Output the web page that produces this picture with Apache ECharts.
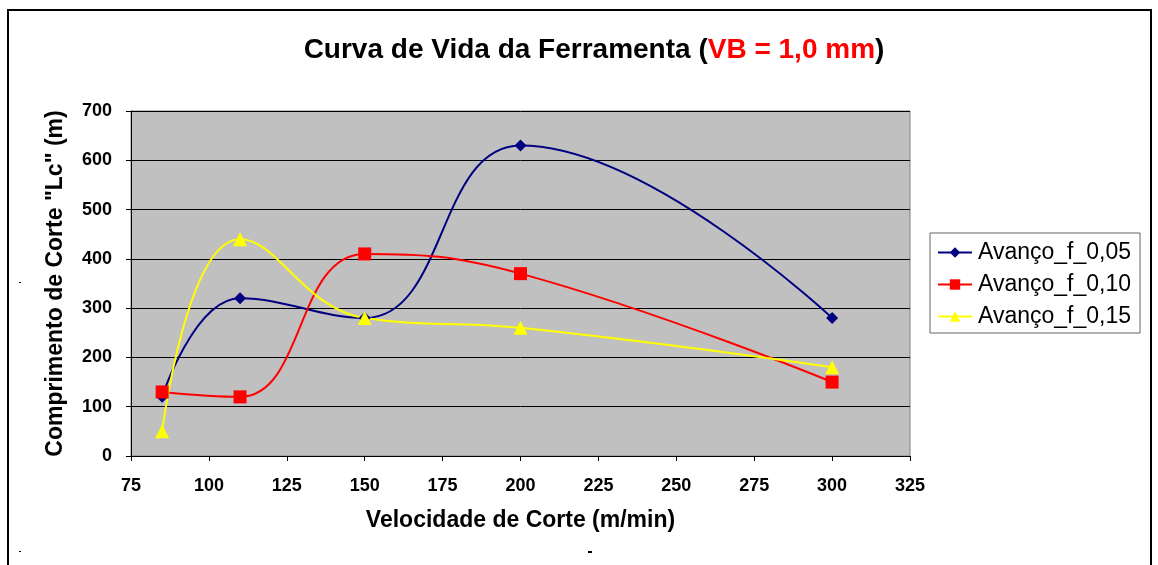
<!DOCTYPE html>
<html>
<head>
<meta charset="utf-8">
<script src="https://cdn.jsdelivr.net/npm/echarts@6/dist/echarts.min.js"></script>
<style>
  html, body { margin: 0; padding: 0; background: #fff; }
  #chart { width: 1158px; height: 565px; }
</style>
</head>
<body>
<div id="chart"></div>
<script>
// velocidade de corte (m/min)
var velocidade = [85, 110, 150, 200, 300];
var avanco005 = [120, 320, 280, 630, 280];
var avanco010 = [130, 120, 410, 370, 150];
var avanco015 = [50, 440, 280, 260, 180];
var nomes = ['Avanço_f_0,05', 'Avanço_f_0,10', 'Avanço_f_0,15'];

function pares(ys) {
  return velocidade.map(function (v, i) { return [v, ys[i]]; });
}

var fonte = 'Liberation Sans, Arial';
var myChart = echarts.init(document.getElementById('chart'));

var option = {
  animation: false,
  title: {
    text: '{n|Curva de Vida da Ferramenta (}{r|VB = 1,0 mm}{n|)}',
    left: 589,
    top: 31,
    textAlign: 'center',
    textStyle: {
      rich: {
        n: { fontFamily: fonte, fontWeight: 'bold', fontSize: 28, color: '#000' },
        r: { fontFamily: fonte, fontWeight: 'bold', fontSize: 28, color: '#ff0000' }
      }
    }
  },
  graphic: [
    {
      type: 'rect',
      shape: { x: 8, y: 10, width: 1143, height: 580 },
      style: { fill: 'none', stroke: '#000', lineWidth: 2 },
      silent: true
    },
    // pequenos tracos soltos da imagem original
    { type: 'rect', shape: { x: 19, y: 282, width: 2, height: 1 }, style: { fill: '#000' }, silent: true },
    { type: 'rect', shape: { x: 19, y: 551, width: 2, height: 1 }, style: { fill: '#000' }, silent: true },
    { type: 'rect', shape: { x: 588, y: 551, width: 4, height: 2 }, style: { fill: '#000' }, silent: true }
  ],
  legend: {
    orient: 'vertical',
    left: 930,
    top: 233,
    data: nomes,
    backgroundColor: '#fff',
    borderColor: '#666',
    borderWidth: 1,
    borderRadius: 0,
    padding: [8, 9, 5, 7],
    itemGap: 9,
    itemWidth: 34,
    itemHeight: 13,
    textStyle: { fontFamily: fonte, fontSize: 23, color: '#000', padding: [0, 0, 0, 1] }
  },
  grid: {
    left: 131,
    right: 248,
    top: 111,
    bottom: 109,
    show: true,
    backgroundColor: '#c0c0c0',
    borderColor: '#808080',
    borderWidth: 1
  },
  xAxis: {
    type: 'value',
    min: 75,
    max: 325,
    interval: 25,
    name: 'Velocidade de Corte (m/min)',
    nameLocation: 'middle',
    nameGap: 53,
    nameTextStyle: { fontFamily: fonte, fontWeight: 'bold', fontSize: 23, color: '#000' },
    axisLine: { show: true, lineStyle: { color: '#000', width: 1 } },
    axisTick: { show: true, length: 5, lineStyle: { color: '#000' } },
    axisLabel: { fontFamily: fonte, fontWeight: 'bold', fontSize: 18, color: '#000', margin: 21 },
    splitLine: { show: false }
  },
  yAxis: {
    type: 'value',
    min: 0,
    max: 700,
    interval: 100,
    name: 'Comprimento de Corte "Lc" (m)',
    nameLocation: 'middle',
    nameGap: 64,
    nameTextStyle: { fontFamily: fonte, fontWeight: 'bold', fontSize: 23, color: '#000' },
    axisLine: { show: true, lineStyle: { color: '#000', width: 1 } },
    axisTick: { show: true, length: 5, lineStyle: { color: '#000' } },
    axisLabel: { fontFamily: fonte, fontWeight: 'bold', fontSize: 18, color: '#000', margin: 19 },
    splitLine: { show: true, lineStyle: { color: '#000', width: 1 } }
  },
  series: [
    {
      name: nomes[0],
      type: 'line',
      data: pares(avanco005),
      smooth: 0.45,
      symbol: 'diamond',
      symbolSize: 12,
      itemStyle: { color: '#000080' },
      lineStyle: { color: '#000080', width: 2 }
    },
    {
      name: nomes[1],
      type: 'line',
      data: pares(avanco010),
      smooth: 0.45,
      symbol: 'rect',
      symbolSize: 13,
      itemStyle: { color: '#ff0000' },
      lineStyle: { color: '#ff0000', width: 2 }
    },
    {
      name: nomes[2],
      type: 'line',
      data: pares(avanco015),
      smooth: 0.45,
      symbol: 'triangle',
      symbolSize: 14,
      itemStyle: { color: '#ffff00' },
      lineStyle: { color: '#ffff00', width: 2 }
    }
  ]
};

myChart.setOption(option);
</script>
</body>
</html>
